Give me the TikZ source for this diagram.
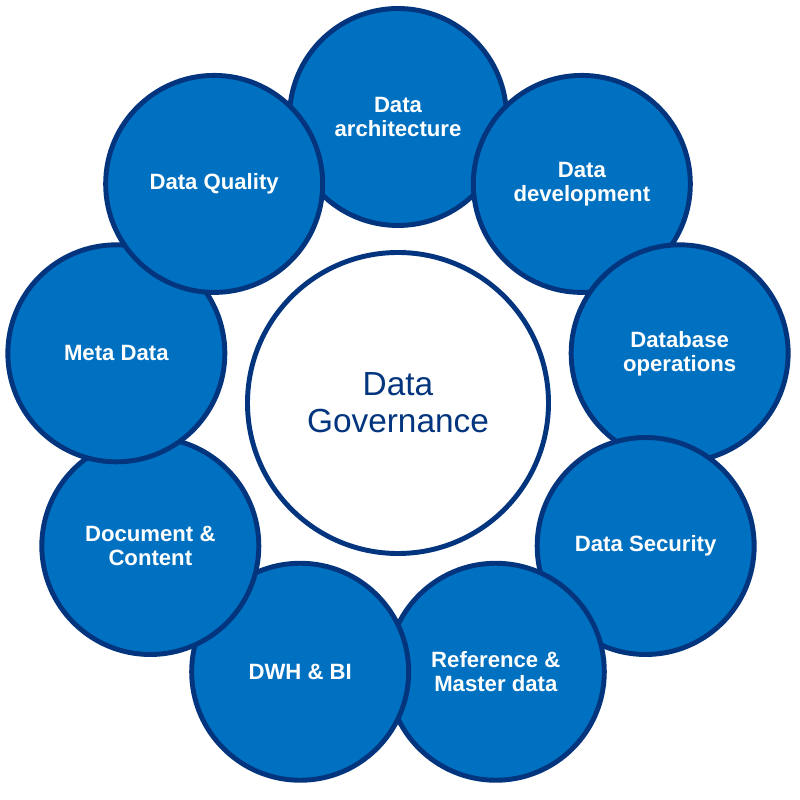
\documentclass[tikz,border=0pt]{standalone}
\usepackage{fontspec}
\setmainfont{Liberation Sans}
\usepackage{tikz}

\definecolor{areablue}{HTML}{0070C0}
\definecolor{rimblue}{HTML}{03357E}
\tikzset{
    area/.style={circle, draw=rimblue, fill=areablue, line width=2.8pt,
        minimum size=4.34cm, inner sep=0pt, align=center, text=white,
        font=\fontsize{12.6}{13.6}\selectfont\bfseries},
    core/.style={circle, draw=rimblue, fill=white, line width=2.8pt,
        minimum size=6.02cm, inner sep=0pt, align=center, text=rimblue,
        font=\fontsize{19}{21}\selectfont}
}

\begin{document}
\begin{tikzpicture}
        \useasboundingbox (-7.96,-7.94) rectangle (8.04,8.06);
        \node[area] (arch) at (90:5.72) {Data\\architecture};
        \node[area] (dev) at (50:5.72) {Data\\development};
        \node[area] (dbops) at (10:5.72) {Database\\operations};
        \node[area] (security) at (-30:5.72) {Data Security};
        \node[area] (reference) at (-70:5.72) {Reference \&\\Master data};
        \node[area] (dwh) at (-110:5.72) {DWH \& BI};
        \node[area] (document) at (-150:5.72) {Document \&\\Content};
        \node[area] (meta) at (170:5.72) {Meta Data};
        \node[area] (quality) at (130:5.72) {Data Quality};
        \node[core] (gov) at (0,0) {Data\\Governance};
    \end{tikzpicture}
\end{document}
